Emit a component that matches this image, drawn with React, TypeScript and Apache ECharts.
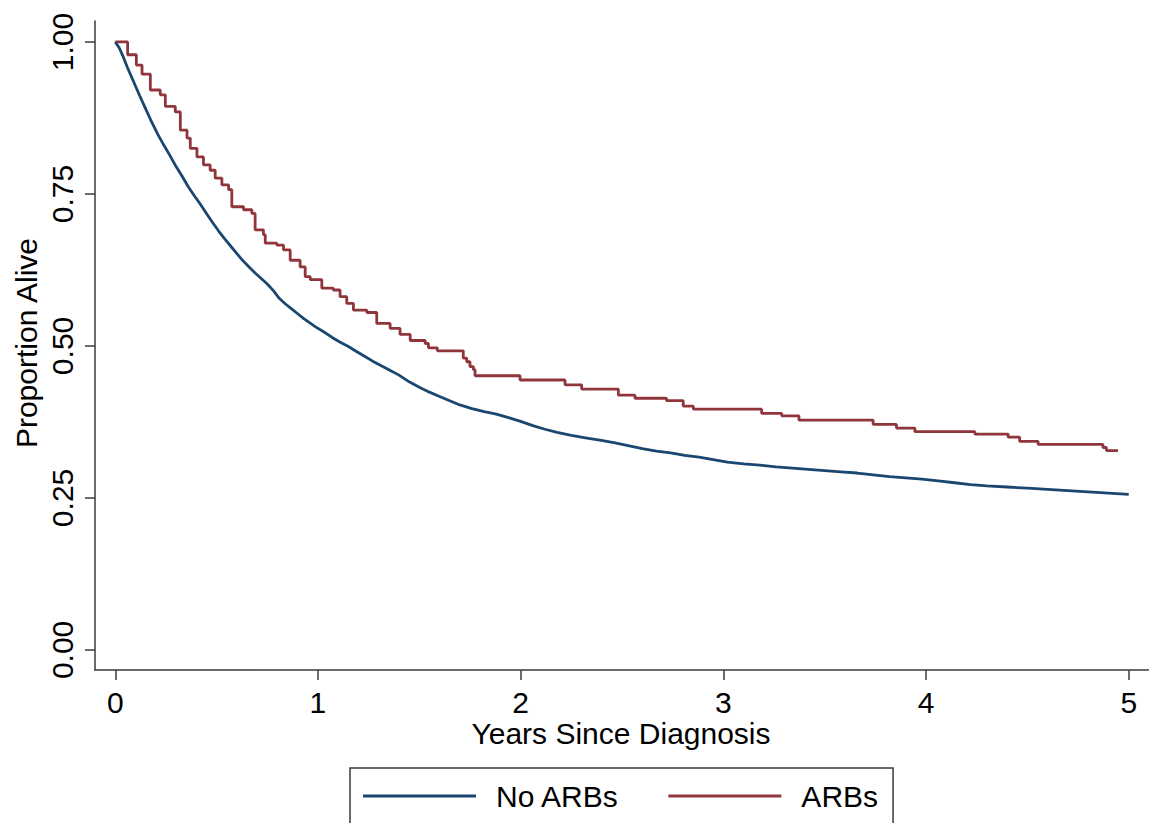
import React, { useEffect, useRef } from "react";
import * as echarts from "echarts";

const FONT = "'Liberation Sans', Arial, Helvetica, sans-serif";
const BLUE = "#1a476f";
const RED = "#90353b";

const xTicks = [0, 1, 2, 3, 4, 5];
const yTicks = [0, 0.25, 0.5, 0.75, 1];
const seriesNames = ["No ARBs", "ARBs"];

// Kaplan-Meier estimates: [years, proportion alive]
const noArbs: [number, number][] = [
  [0, 1.0], [0.02, 0.99], [0.04, 0.975], [0.06, 0.958], [0.09, 0.935], [0.12, 0.912],
  [0.15, 0.89], [0.18, 0.868], [0.21, 0.848], [0.24, 0.83], [0.27, 0.813], [0.3, 0.795],
  [0.33, 0.779], [0.36, 0.762], [0.39, 0.747], [0.42, 0.733], [0.45, 0.718], [0.48, 0.703],
  [0.51, 0.689], [0.54, 0.676], [0.57, 0.664], [0.6, 0.652], [0.63, 0.64], [0.66, 0.63],
  [0.69, 0.62], [0.72, 0.611], [0.75, 0.602], [0.78, 0.591], [0.81, 0.578], [0.84, 0.569],
  [0.87, 0.561], [0.9, 0.553], [0.93, 0.545], [0.96, 0.538], [0.99, 0.531], [1.03, 0.523],
  [1.07, 0.514], [1.11, 0.506], [1.15, 0.499], [1.19, 0.491], [1.23, 0.483], [1.27, 0.475],
  [1.31, 0.468], [1.35, 0.461], [1.4, 0.452], [1.45, 0.441], [1.5, 0.432], [1.55, 0.424],
  [1.6, 0.417], [1.65, 0.41], [1.7, 0.403], [1.76, 0.397], [1.82, 0.392], [1.88, 0.388],
  [1.94, 0.382], [2.0, 0.376], [2.06, 0.369], [2.12, 0.363], [2.18, 0.358], [2.25, 0.353],
  [2.32, 0.349], [2.39, 0.345], [2.46, 0.341], [2.53, 0.336], [2.6, 0.331], [2.67, 0.327],
  [2.74, 0.324], [2.81, 0.32], [2.88, 0.317], [2.95, 0.313], [3.02, 0.309], [3.1, 0.306],
  [3.18, 0.304], [3.26, 0.301], [3.34, 0.299], [3.42, 0.297], [3.5, 0.295], [3.58, 0.293],
  [3.66, 0.291], [3.74, 0.288], [3.82, 0.285], [3.9, 0.283], [3.98, 0.281], [4.06, 0.278],
  [4.14, 0.275], [4.22, 0.272], [4.3, 0.27], [4.4, 0.268], [4.5, 0.266], [4.6, 0.264],
  [4.7, 0.262], [4.8, 0.26], [4.9, 0.258], [5.0, 0.256],
];

const arbs: [number, number][] = [
  [0, 1.0], [0.061, 0.979], [0.104, 0.962], [0.132, 0.947], [0.173, 0.921], [0.222, 0.913],
  [0.247, 0.894], [0.296, 0.885], [0.321, 0.855], [0.354, 0.842], [0.37, 0.825], [0.403, 0.811],
  [0.435, 0.798], [0.468, 0.789], [0.493, 0.776], [0.526, 0.765], [0.559, 0.757], [0.575, 0.729],
  [0.633, 0.724], [0.674, 0.718], [0.69, 0.691], [0.731, 0.683], [0.74, 0.669], [0.797, 0.666],
  [0.83, 0.658], [0.863, 0.641], [0.912, 0.63], [0.937, 0.614], [0.962, 0.609], [1.019, 0.595],
  [1.076, 0.592], [1.109, 0.581], [1.142, 0.57], [1.175, 0.559], [1.241, 0.555], [1.29, 0.537],
  [1.356, 0.529], [1.405, 0.519], [1.455, 0.509], [1.529, 0.504], [1.545, 0.497], [1.589, 0.492],
  [1.717, 0.48], [1.734, 0.474], [1.75, 0.466], [1.767, 0.461], [1.775, 0.451], [1.997, 0.444],
  [2.219, 0.436], [2.301, 0.429], [2.482, 0.419], [2.564, 0.414], [2.72, 0.41], [2.802, 0.401],
  [2.852, 0.396], [3.189, 0.389], [3.288, 0.385], [3.373, 0.378], [3.739, 0.371], [3.854, 0.365],
  [3.945, 0.359], [4.241, 0.355], [4.405, 0.35], [4.462, 0.343], [4.553, 0.338], [4.873, 0.333],
  [4.89, 0.328], [4.947, 0.328],
];

export default function App() {
  const ref = useRef<HTMLDivElement>(null);
  useEffect(() => {
    if (!ref.current) return;
    const chart = echarts.init(ref.current, undefined, { renderer: "svg" });
    const axisColor = "#3a3a3a";
    chart.setOption({
      animation: false,
      backgroundColor: "#ffffff",
      textStyle: { fontFamily: FONT },
      grid: { left: 95, top: 21, width: 1054, height: 649, containLabel: false },
      xAxis: {
        type: "value",
        min: -0.1,
        max: 5.1,
        splitLine: { show: false },
        axisLine: { show: true, onZero: false, lineStyle: { color: axisColor, width: 1.5 } },
        axisTick: { show: true, length: 10, customValues: xTicks, lineStyle: { color: axisColor, width: 1.5 } },
        axisLabel: {
          customValues: xTicks,
          margin: 17,
          color: "#000",
          fontSize: 30,
          fontFamily: FONT,
          formatter: (v: number) => String(v),
        },
      },
      yAxis: {
        type: "value",
        min: -0.033,
        max: 1.0345,
        splitLine: { show: false },
        axisLine: { show: true, onZero: false, lineStyle: { color: axisColor, width: 1.5 } },
        axisTick: { show: true, length: 10, customValues: yTicks, lineStyle: { color: axisColor, width: 1.5 } },
        axisLabel: {
          customValues: yTicks,
          rotate: 90,
          margin: 18,
          color: "#000",
          fontSize: 30,
          fontFamily: FONT,
          formatter: (v: number) => v.toFixed(2),
        },
      },
      legend: {
        left: 350,
        top: 768,
        orient: "horizontal",
        icon: "rect",
        itemWidth: 113,
        itemHeight: 3,
        itemGap: 49,
        padding: [13, 15, 13, 13],
        borderColor: "#3a3a3a",
        borderWidth: 1.5,
        backgroundColor: "#ffffff",
        textStyle: { fontSize: 30, color: "#000", fontFamily: FONT, padding: [0, 0, 0, 15] },
        data: seriesNames,
      },
      graphic: [
        {
          type: "text",
          x: 621,
          y: 733,
          style: {
            text: "Years Since Diagnosis",
            fontSize: 30,
            fontFamily: FONT,
            fill: "#000",
            align: "center",
            verticalAlign: "middle",
          },
        },
        {
          type: "text",
          x: 26,
          y: 343,
          rotation: Math.PI / 2,
          style: {
            text: "Proportion Alive",
            fontSize: 30,
            fontFamily: FONT,
            fill: "#000",
            align: "center",
            verticalAlign: "middle",
          },
        },
      ],
      series: [
        {
          name: seriesNames[0],
          type: "line",
          data: noArbs,
          showSymbol: false,
          symbol: "none",
          color: BLUE,
          lineStyle: { color: BLUE, width: 2.8 },
          z: 3,
        },
        {
          name: seriesNames[1],
          type: "line",
          step: "end",
          data: arbs,
          showSymbol: false,
          symbol: "none",
          color: RED,
          lineStyle: { color: RED, width: 2.8 },
          z: 2,
        },
      ],
    });
    return () => chart.dispose();
  }, []);
  return (
    <div
      ref={ref}
      style={{ position: "absolute", left: 0, top: 0, width: 1149, height: 823 }}
    />
  );
}
